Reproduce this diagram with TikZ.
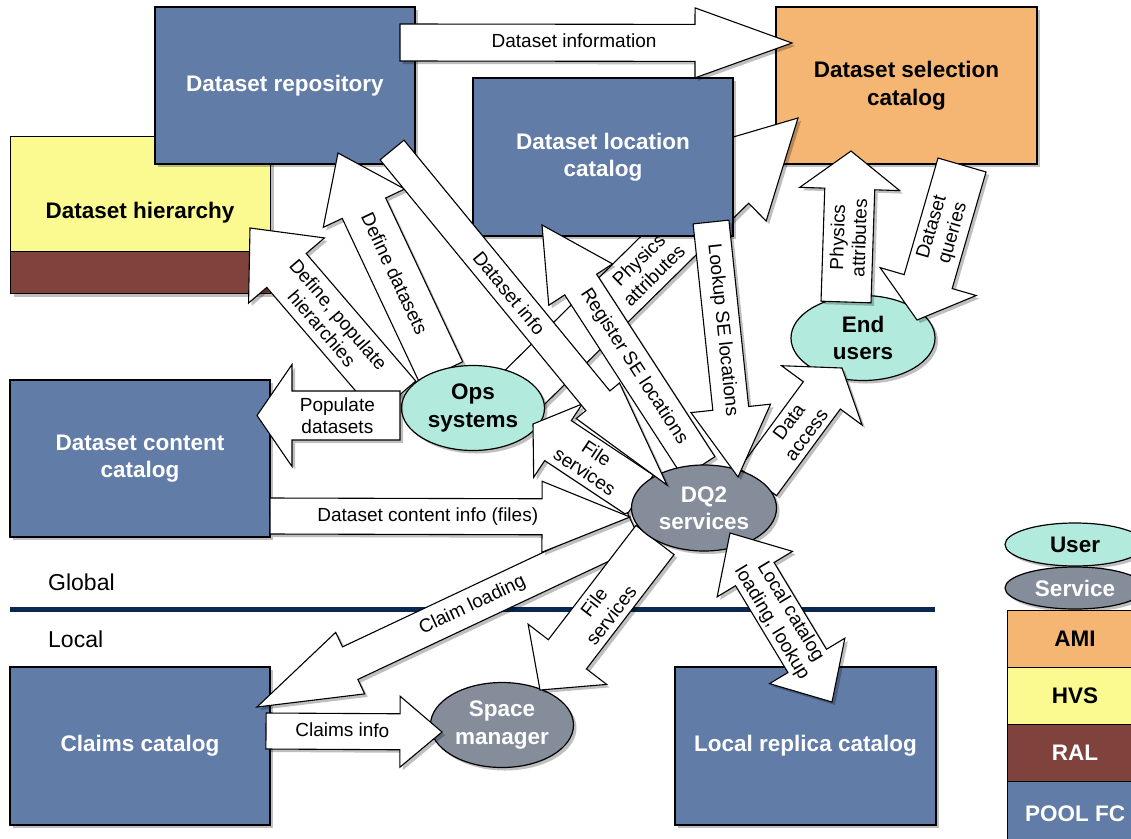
\documentclass[tikz,border=0pt]{standalone}
\usepackage{fontspec}
\setmainfont{Liberation Sans}
\usetikzlibrary{calc,shapes.geometric,shadows}
\definecolor{dsblue}{RGB}{98,124,168}
\definecolor{amiorange}{RGB}{245,182,115}
\definecolor{hvsyellow}{RGB}{250,250,145}
\definecolor{ralbrown}{RGB}{128,66,60}
\definecolor{userteal}{RGB}{178,235,222}
\definecolor{svcgray}{RGB}{133,141,155}
\definecolor{navyline}{RGB}{8,40,80}
\newcommand{\dqboxfont}{\fontsize{22.5}{27.5}\selectfont\bfseries}
\newcommand{\dqlblfont}{\fontsize{19}{21.7}\selectfont}
\tikzset{
  shad/.style={drop shadow={shadow xshift=3pt,shadow yshift=-3pt,opacity=0.25,fill=black}},
  box/.style={draw=black, line width=1.2pt, shad, inner sep=0pt, align=center, text=white, font=\dqboxfont},
  ell/.style={ellipse, draw=black, line width=1.2pt, shad, inner sep=0pt, minimum width=143pt, minimum height=85pt, align=center, font=\dqboxfont},
  barrow/.style={draw=black, fill=white, line width=1.1pt, line join=miter, shad},
  alabel/.style={inner sep=0pt, align=center, font=\dqlblfont},
}
% #1 tail, #2 tip, #3 half shaft, #4 half head, #5 head length, #6 text, #7 text pos, #8 flip
\newcommand{\blockarrow}[8]{%
  \coordinate (bac) at ($(#2)!#5pt!(#1)$);
  \draw[barrow] ($(#1)!#3pt!90:(#2)$) -- ($(bac)!#3pt!90:(#2)$) -- ($(bac)!#4pt!90:(#2)$) -- (#2)
     -- ($(bac)!#4pt!-90:(#2)$) -- ($(bac)!#3pt!-90:(#2)$) -- ($(#1)!#3pt!-90:(#2)$) -- cycle;
  \coordinate (bat) at ($(#1)!#7!(bac)$);
  \path let \p1=($(#2)-(#1)$), \n1={atan2(\y1,\x1)+#8} in node[alabel, rotate=\n1] at (bat) {#6};
}
% #1 tip A, #2 tip B, #3 half shaft, #4 half head, #5 head length, #6 text, #7 flip
\newcommand{\dblockarrow}[7]{%
  \coordinate (bca) at ($(#1)!#5pt!(#2)$);
  \coordinate (bcb) at ($(#2)!#5pt!(#1)$);
  \draw[barrow] (#1) -- ($(bca)!#4pt!90:(#2)$) -- ($(bca)!#3pt!90:(#2)$) -- ($(bcb)!#3pt!90:(#2)$)
     -- ($(bcb)!#4pt!90:(#2)$) -- (#2) -- ($(bcb)!#4pt!-90:(#2)$) -- ($(bcb)!#3pt!-90:(#2)$)
     -- ($(bca)!#3pt!-90:(#2)$) -- ($(bca)!#4pt!-90:(#2)$) -- cycle;
  \coordinate (bat) at ($(#1)!0.5!(#2)$);
  \path let \p1=($(#2)-(#1)$), \n1={atan2(\y1,\x1)+#7} in node[alabel, rotate=\n1] at (bat) {#6};
}
\begin{document}
\begin{tikzpicture}[x=1pt,y=-1pt]
\useasboundingbox (0,0) rectangle (1131,838);
\fill[white] (0,0) rectangle (1131,838);

% ---------- boxes ----------
\node[box, fill=hvsyellow, anchor=north west, minimum width=260pt, minimum height=115pt] (hier) at (10,136) {};
\node[box, fill=ralbrown, anchor=north west, minimum width=260pt, minimum height=42pt] (hierral) at (10,251) {};
\node[inner sep=0pt, font=\dqboxfont] (hiertxt) at (140,213) {Dataset hierarchy};
\node[box, fill=dsblue, minimum width=260pt, minimum height=157pt] (repo) at (285,85.5) {Dataset repository};
\node[box, fill=amiorange, text=black, minimum width=261pt, minimum height=157pt] (dsc) at (906.5,85.5) {Dataset selection\\catalog};
\node[box, fill=dsblue, minimum width=260pt, minimum height=157pt] (dcc) at (140,458.5) {Dataset content\\catalog};
\node[box, fill=dsblue, minimum width=260pt, minimum height=158pt] (claims) at (140,746) {Claims catalog};
\node[box, fill=dsblue, minimum width=261pt, minimum height=158pt] (lrc) at (805.5,746) {Local replica catalog};

% legend
\node[ell, fill=userteal, minimum width=140pt, minimum height=43pt] (leguser) at (1075,544.5) {User};
\node[ell, fill=svcgray, text=white, minimum width=140pt, minimum height=42pt] (legsvc) at (1075,588) {Service};
\node[box, fill=amiorange, text=black, anchor=north west, minimum width=135pt, minimum height=57pt] (legami) at (1007,610) {AMI};
\node[box, fill=hvsyellow, text=black, anchor=north west, minimum width=135pt, minimum height=57pt] (leghvs) at (1007,667) {HVS};
\node[box, fill=ralbrown, anchor=north west, minimum width=135pt, minimum height=57pt] (legral) at (1007,724) {RAL};
\node[box, fill=dsblue, anchor=north west, minimum width=135pt, minimum height=65pt] (legpool) at (1007,781) {POOL FC};

% global / local divider
\coordinate (divL) at (10,609);
\coordinate (divR) at (935,609);
\draw[navyline, line width=5pt] (divL) -- (divR);
\node[anchor=base west, inner sep=0pt, font=\fontsize{23}{26}\selectfont] (global) at (48,590) {Global};
\node[anchor=base west, inner sep=0pt, font=\fontsize{23}{26}\selectfont] (local) at (48,647) {Local};

% ---------- End users ----------
\node[ell, fill=userteal, minimum width=144pt] (endusers) at (863,338) {End\\users};

% ---------- arrow end points ----------
\coordinate (dinfS) at (400,42.5);  \coordinate (dinfE) at (792,43);
\coordinate (defdsS) at (441,372);  \coordinate (defdsE) at (338,153);
\coordinate (defhS) at (396,398);   \coordinate (defhE) at (250,228);
\coordinate (physcS) at (520,392);  \coordinate (physcE) at (798,118);
\coordinate (popS) at (400,415.5);  \coordinate (popE) at (257,415.5);
\coordinate (regS) at (699,467);    \coordinate (regE) at (542,225);
\coordinate (lookS) at (711,222);   \coordinate (lookE) at (738,477);
\coordinate (daccS) at (758,482);   \coordinate (daccE) at (842,368);
\coordinate (physrS) at (846,302);  \coordinate (physrE) at (851,151);
\coordinate (dqS) at (962,165);     \coordinate (dqE) at (917,320);
\coordinate (fsuS) at (640,495);    \coordinate (fsuE) at (533,424);
\coordinate (dciS) at (270,516);    \coordinate (dciE) at (630,517);
\coordinate (clS) at (635,529);     \coordinate (clE) at (257,707);
\coordinate (fslS) at (655,540);    \coordinate (fslE) at (540,690);
\coordinate (ciS) at (266,731);     \coordinate (ciE) at (442,732);
\coordinate (dsiS) at (392,150);    \coordinate (dsiE) at (667,485);
\coordinate (lcA) at (730,533);     \coordinate (lcB) at (832,702);

% arrows leaving Ops systems
\blockarrow{defdsS}{defdsE}{24}{45}{61}{Define datasets}{0.6}{180}
\blockarrow{defhS}{defhE}{26}{50}{56}{Define, populate\\hierarchies}{0.6}{180}
\blockarrow{physcS}{physcE}{26}{51}{95}{Physics\\attributes}{0.6}{0}

\node[ell, fill=userteal] (ops) at (473,408) {Ops\\systems};

\blockarrow{popS}{popE}{24.5}{51}{35}{Populate\\datasets}{0.58}{180}

% Dataset location catalog (covers the physics attributes shaft)
\node[box, fill=dsblue, minimum width=260pt, minimum height=158pt] (dlc) at (603,157) {Dataset location\\catalog};

% arrows leaving DQ2 services and others
\blockarrow{dinfS}{dinfE}{18.5}{35}{97}{\raisebox{4pt}{Dataset information}}{0.59}{0}
\blockarrow{regS}{regE}{19}{38}{71}{Register SE locations}{0.55}{180}
\blockarrow{daccS}{daccE}{23}{50}{34}{Data\\access}{0.62}{0}
\blockarrow{physrS}{physrE}{25}{50}{38}{Physics\\attributes}{0.57}{0}
\blockarrow{dqS}{dqE}{25}{50}{40}{Dataset\\queries}{0.56}{180}
\blockarrow{fsuS}{fsuE}{24}{44}{30}{File\\services}{0.6}{180}

\node[ell, fill=svcgray, text=white] (space) at (502,725) {Space\\manager};

\blockarrow{clS}{clE}{18}{34}{103}{Claim loading}{0.57}{180}
\blockarrow{fslS}{fslE}{24}{49.5}{45}{File\\services}{0.6}{180}

\node[ell, fill=svcgray, text=white, minimum width=145pt, minimum height=86pt] (dq2) at (704,508) {DQ2\\services};

% arrows arriving at DQ2 services
\blockarrow{dsiS}{dsiE}{15.5}{28}{109}{Dataset info}{0.57}{0}
\blockarrow{lookS}{lookE}{18}{40}{69}{Lookup SE locations}{0.58}{0}
\dblockarrow{lcA}{lcB}{22.5}{44}{48}{Local catalog\\loading, lookup}{0}
\blockarrow{dciS}{dciE}{18}{35.5}{88}{\raisebox{3pt}{Dataset content info (files)}}{0.58}{0}
\blockarrow{ciS}{ciE}{18}{35.5}{42}{\raisebox{3pt}{Claims info}}{0.57}{0}
\end{tikzpicture}
\end{document}
